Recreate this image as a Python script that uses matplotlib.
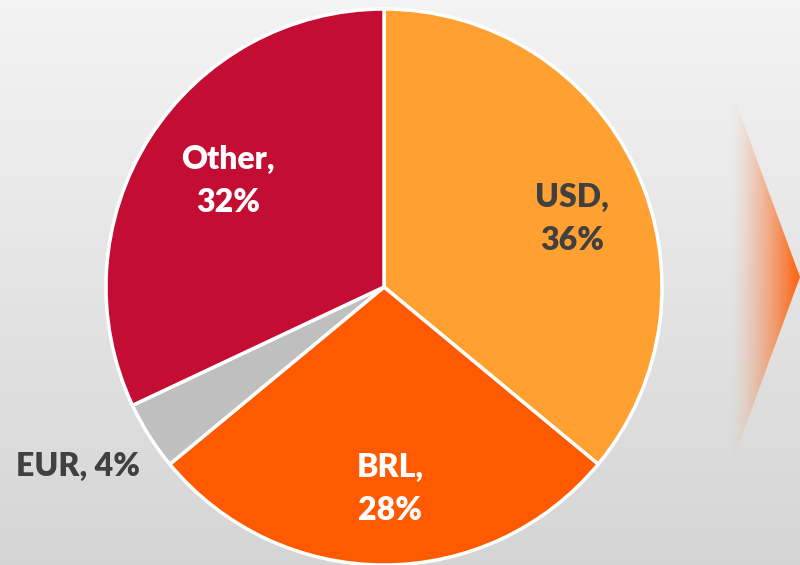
import numpy as np
import matplotlib.pyplot as plt
from matplotlib.patches import Polygon

# Data
labels = ["USD", "BRL", "EUR", "Other"]
shares = [36, 28, 4, 32]
colors = ["#ffa031", "#ff5a00", "#bfbfbf", "#c40d32"]

W, H = 800, 565
fig = plt.figure(figsize=(8, 5.65), dpi=100)
ax = fig.add_axes([0, 0, 1, 1])

# background: soft vertical grey gradient
grad = np.linspace(0.955, 0.835, 256).reshape(-1, 1)
ax.imshow(np.dstack([grad] * 3), extent=[0, W, 0, H], origin="upper",
          aspect="auto", zorder=0)

# pie
cx, cy, r = 384, H - 287, 278
wedges, _ = ax.pie(shares, colors=colors, startangle=90, counterclock=False,
                   center=(cx, cy), radius=r, frame=True,
                   wedgeprops=dict(edgecolor="white", linewidth=2.5))
for w in wedges:
    w.set_zorder(2)

# arrow on the right with fading orange
tri = Polygon([(732, H - 92), (800, H - 277), (732, H - 463)], closed=True,
              facecolor="none", edgecolor="none")
ax.add_patch(tri)
xs = np.linspace(0, 1, 256)
arr = np.zeros((2, 256, 4))
arr[..., 0] = 1.0
arr[..., 1] = 0.38
arr[..., 2] = 0.05
arr[..., 3] = xs ** 1.3
im = ax.imshow(arr, extent=[732, 800, H - 463, H - 92], aspect="auto", zorder=1)
im.set_clip_path(tri)

# labels
font = dict(family="Lato", fontweight="heavy", fontsize=23, ha="center",
            va="center", linespacing=1.6, zorder=3)
dark = "#404040"
ax.text(228, H - 181, "Other,\n32%", color="white", **font)
ax.text(572, H - 219, "USD,\n36%", color=dark, **font)
ax.text(390, H - 489, "BRL,\n28%", color="white", **font)
ax.text(78, H - 466, "EUR, 4%", color=dark, **font)

ax.set_xlim(0, W)
ax.set_ylim(0, H)
ax.set_aspect("auto")
ax.axis("off")

fig.savefig("out.png", dpi=100)
